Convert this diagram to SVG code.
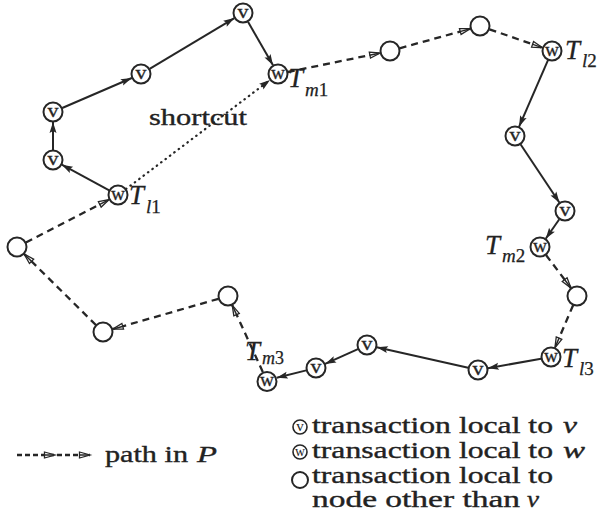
<svg xmlns="http://www.w3.org/2000/svg" width="598" height="518" viewBox="0 0 598 518">
  <defs>
    <style>
      .nd { fill: #fff; stroke: #262626; stroke-width: 2; }
      .lt { font-family: "Liberation Serif", "Times New Roman", serif; font-size: 19px; fill: #262626; stroke: #262626; stroke-width: 0.3; text-anchor: middle; }
      .lts { font-family: "Liberation Serif", "Times New Roman", serif; font-size: 15px; fill: #262626; text-anchor: middle; }
      .solid { stroke: #262626; stroke-width: 2; fill: none; marker-end: url(#headSolid); }
      .dash { stroke: #262626; stroke-width: 2.3; fill: none; stroke-dasharray: 7 5; marker-end: url(#headOpen); }
      .dot { stroke: #262626; stroke-width: 2.2; fill: none; stroke-dasharray: 0.5 5; stroke-linecap: round; marker-end: url(#headSolid); }
      .tx { font-family: "Liberation Serif", "Times New Roman", serif; font-size: 23px; fill: #222; stroke: #222; stroke-width: 0.35; }
      .it { font-style: italic; }
      .T { font-family: "Liberation Serif", "Times New Roman", serif; font-style: italic; font-size: 27px; fill: #222; stroke: #222; stroke-width: 0.3; }
      .sub { font-family: "Liberation Serif", "Times New Roman", serif; font-size: 19px; fill: #222; stroke: #222; stroke-width: 0.25; }
    </style>
    <marker id="headSolid" markerUnits="userSpaceOnUse" markerWidth="12" markerHeight="8" refX="11" refY="3.5" orient="auto" overflow="visible">
      <path d="M0,0 L11,3.5 L0,7 L2,3.5 z" fill="#262626"/>
    </marker>
    <marker id="headOpen" markerUnits="userSpaceOnUse" markerWidth="12" markerHeight="8" refX="11" refY="3.5" orient="auto" overflow="visible">
      <path d="M0.5,0.5 L11,3.5 L0.5,6.5 z" fill="#fff" stroke="#262626" stroke-width="1.3"/>
      <path d="M0,3.5 L10,3.5" stroke="#262626" stroke-width="1.5"/>
    </marker>
  </defs>

  <rect width="598" height="518" fill="#fff"/>

  <!-- connectors -->
  <g id="connectors">
    <line class="solid" x1="109.2" y1="190.3" x2="61.8" y2="164.7"/>
    <line class="solid" x1="53" y1="150" x2="53" y2="122"/>
    <line class="solid" x1="62.2" y1="108" x2="131.8" y2="78"/>
    <line class="solid" x1="149.6" y1="68.9" x2="234.4" y2="18.1"/>
    <line class="solid" x1="248" y1="21.7" x2="273" y2="65.3"/>
    <line class="dash" x1="287.8" y1="72" x2="380.2" y2="53"/>
    <line class="dash" x1="399.6" y1="48.3" x2="470.4" y2="28.7"/>
    <line class="dash" x1="489.5" y1="29.3" x2="542.5" y2="47.7"/>
    <line class="solid" x1="548" y1="60.2" x2="519" y2="126.8"/>
    <line class="solid" x1="520.5" y1="144.3" x2="559.5" y2="202.7"/>
    <line class="solid" x1="559.3" y1="219.2" x2="545.7" y2="238.8"/>
    <line class="dash" x1="546" y1="255" x2="571" y2="288"/>
    <line class="dash" x1="573.1" y1="305.2" x2="554.9" y2="347.8"/>
    <line class="solid" x1="541.1" y1="358.8" x2="487.8" y2="368.2"/>
    <line class="solid" x1="468.2" y1="367.8" x2="376.8" y2="347.2"/>
    <line class="solid" x1="357.9" y1="349.1" x2="325.1" y2="363.9"/>
    <line class="solid" x1="306.3" y1="370.4" x2="276.7" y2="377.8"/>
    <line class="dash" x1="262.8" y1="371.9" x2="232.2" y2="305.1"/>
    <line class="dash" x1="218.4" y1="298.8" x2="112.6" y2="329.2"/>
    <line class="dash" x1="95.9" y1="325" x2="24.1" y2="254"/>
    <line class="dash" x1="25.9" y1="242.4" x2="109.1" y2="199.6"/>
    <line class="dot" x1="126" y1="189" x2="270" y2="80"/>
  </g>

  <!-- nodes -->
  <g id="n-tl1"><circle class="nd" cx="118" cy="195" r="9.5"/><text class="lt" x="118" y="199.5" textLength="14" lengthAdjust="spacingAndGlyphs">w</text></g>
  <g id="n-v1"><circle class="nd" cx="53" cy="160" r="9.5"/><text class="lt" x="53" y="164.5" textLength="11" lengthAdjust="spacingAndGlyphs">v</text></g>
  <g id="n-v2"><circle class="nd" cx="53" cy="112" r="9.5"/><text class="lt" x="53" y="116.5" textLength="11" lengthAdjust="spacingAndGlyphs">v</text></g>
  <g id="n-v3"><circle class="nd" cx="141" cy="74" r="9.5"/><text class="lt" x="141" y="78.5" textLength="11" lengthAdjust="spacingAndGlyphs">v</text></g>
  <g id="n-v4"><circle class="nd" cx="243" cy="13" r="9.5"/><text class="lt" x="243" y="17.5" textLength="11" lengthAdjust="spacingAndGlyphs">v</text></g>
  <g id="n-tm1"><circle class="nd" cx="278" cy="74" r="9.5"/><text class="lt" x="278" y="78.5" textLength="14" lengthAdjust="spacingAndGlyphs">w</text></g>
  <g id="n-o1"><circle class="nd" cx="390" cy="51" r="9.5"/></g>
  <g id="n-o2"><circle class="nd" cx="480" cy="26" r="9.5"/></g>
  <g id="n-tl2"><circle class="nd" cx="552" cy="51" r="9.5"/><text class="lt" x="552" y="55.5" textLength="14" lengthAdjust="spacingAndGlyphs">w</text></g>
  <g id="n-v5"><circle class="nd" cx="515" cy="136" r="9.5"/><text class="lt" x="515" y="140.5" textLength="11" lengthAdjust="spacingAndGlyphs">v</text></g>
  <g id="n-v6"><circle class="nd" cx="565" cy="211" r="9.5"/><text class="lt" x="565" y="215.5" textLength="11" lengthAdjust="spacingAndGlyphs">v</text></g>
  <g id="n-tm2"><circle class="nd" cx="540" cy="247" r="9.5"/><text class="lt" x="540" y="251.5" textLength="14" lengthAdjust="spacingAndGlyphs">w</text></g>
  <g id="n-o3"><circle class="nd" cx="577" cy="296" r="9.5"/></g>
  <g id="n-tl3"><circle class="nd" cx="551" cy="357" r="9.5"/><text class="lt" x="551" y="361.5" textLength="14" lengthAdjust="spacingAndGlyphs">w</text></g>
  <g id="n-v7"><circle class="nd" cx="478" cy="370" r="9.5"/><text class="lt" x="478" y="374.5" textLength="11" lengthAdjust="spacingAndGlyphs">v</text></g>
  <g id="n-v8"><circle class="nd" cx="367" cy="345" r="9.5"/><text class="lt" x="367" y="349.5" textLength="11" lengthAdjust="spacingAndGlyphs">v</text></g>
  <g id="n-v9"><circle class="nd" cx="316" cy="368" r="9.5"/><text class="lt" x="316" y="372.5" textLength="11" lengthAdjust="spacingAndGlyphs">v</text></g>
  <g id="n-tm3"><circle class="nd" cx="267" cy="381.5" r="9.5"/><text class="lt" x="267" y="386" textLength="14" lengthAdjust="spacingAndGlyphs">w</text></g>
  <g id="n-o4"><circle class="nd" cx="228" cy="296" r="9.5"/></g>
  <g id="n-o5"><circle class="nd" cx="103" cy="332" r="9.5"/></g>
  <g id="n-o6"><circle class="nd" cx="17" cy="247" r="9.5"/></g>

  <!-- node labels -->
  <g id="labels">
    <text class="T" x="129" y="204">T</text><text class="sub" x="146" y="213"><tspan class="it">l</tspan>1</text>
    <text class="T" x="288" y="87">T</text><text class="sub" x="305" y="96"><tspan class="it">m</tspan>1</text>
    <text class="T" x="565" y="59">T</text><text class="sub" x="582" y="67"><tspan class="it">l</tspan>2</text>
    <text class="T" x="485" y="254">T</text><text class="sub" x="502" y="262"><tspan class="it">m</tspan>2</text>
    <text class="T" x="562" y="367">T</text><text class="sub" x="579" y="375"><tspan class="it">l</tspan>3</text>
    <text class="T" x="245" y="360">T</text><text class="sub" x="262" y="364" style="font-size:18px"><tspan class="it">m</tspan>3</text>
    <text class="tx" x="149" y="125" textLength="98" lengthAdjust="spacingAndGlyphs">shortcut</text>
  </g>

  <!-- legend -->
  <g id="legend-path">
    <line class="dash" style="stroke-dasharray:5 3" x1="17" y1="455" x2="55" y2="455"/>
    <line class="dash" style="stroke-dasharray:5 3" x1="57" y1="455" x2="90" y2="455"/>
    <text class="tx" x="105" y="462" textLength="83" lengthAdjust="spacingAndGlyphs">path in</text>
    <text class="tx it" x="197" y="462" textLength="20" lengthAdjust="spacingAndGlyphs">P</text>
  </g>
  <g id="legend-nodes">
    <circle class="nd" cx="300" cy="427" r="7" style="stroke-width:1.6"/><text class="lts" x="300" y="431">v</text>
    <circle class="nd" cx="300" cy="452" r="7" style="stroke-width:1.6"/><text class="lts" x="300" y="456" textLength="10" lengthAdjust="spacingAndGlyphs">w</text>
    <circle class="nd" cx="300" cy="480" r="8" style="stroke-width:2"/>
    <text class="tx" x="312" y="433" textLength="241" lengthAdjust="spacingAndGlyphs">transaction local to</text>
    <text class="tx it" x="563" y="433" textLength="14" lengthAdjust="spacingAndGlyphs">v</text>
    <text class="tx" x="312" y="458" textLength="241" lengthAdjust="spacingAndGlyphs">transaction local to</text>
    <text class="tx it" x="563" y="458" textLength="22" lengthAdjust="spacingAndGlyphs">w</text>
    <text class="tx" x="312" y="483" textLength="241" lengthAdjust="spacingAndGlyphs">transaction local to</text>
    <text class="tx" x="312" y="507" textLength="208" lengthAdjust="spacingAndGlyphs">node other than</text>
    <text class="tx it" x="527" y="507" textLength="12" lengthAdjust="spacingAndGlyphs">v</text>
  </g>
</svg>
